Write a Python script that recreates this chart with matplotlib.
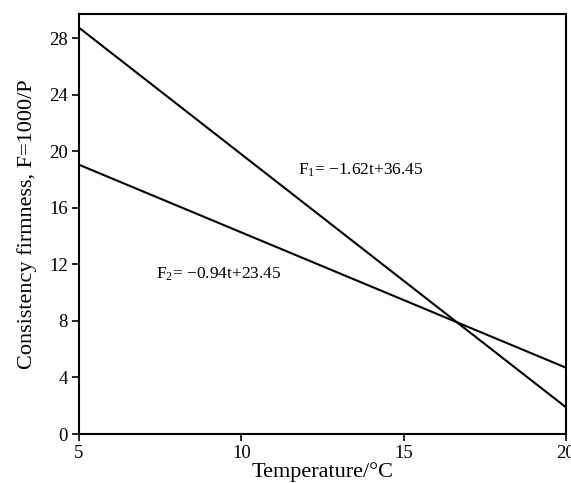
import matplotlib
matplotlib.use("Agg")
import matplotlib.pyplot as plt
import numpy as np

plt.rcParams['font.family'] = ['Liberation Serif', 'DejaVu Serif']
plt.rcParams['mathtext.fontset'] = 'custom'
plt.rcParams['mathtext.rm'] = 'Liberation Serif'
plt.rcParams['mathtext.it'] = 'Liberation Serif:italic'

# Data
t = [5, 20]
f1 = [28.73, 1.89]
f2 = [19.04, 4.69]
xticks = [5, 10, 15, 20]
yticks = [0, 4, 8, 12, 16, 20, 24, 28]

fig = plt.figure(figsize=(5.71, 4.83), dpi=100)
ax = fig.add_axes([0.1384, 0.1014, 0.8528, 0.8696])
ax.plot(t, f1, color='black', lw=1.5)
ax.plot(t, f2, color='black', lw=1.5)
ax.set_xlim(5, 20)
ax.set_ylim(0, 29.7)
ax.set_xticks(xticks)
ax.set_yticks(yticks)
ax.tick_params(direction='out', length=5, width=1.2, labelsize=13.5, pad=3)
for s in ax.spines.values():
    s.set_linewidth(1.5)
ax.set_xlabel('Temperature/°C', fontsize=16, labelpad=0)
ax.set_ylabel('Consistency firmness, F=1000/P', fontsize=16, labelpad=9)
ax.text(11.75, 18.33, r'$\mathregular{F_1}$= −1.62t+36.45', fontsize=12.5, va='baseline', ha='left')
ax.text(7.37, 10.97, r'$\mathregular{F_2}$= −0.94t+23.45', fontsize=12.5, va='baseline', ha='left')
fig.savefig('out.png', dpi=100)
